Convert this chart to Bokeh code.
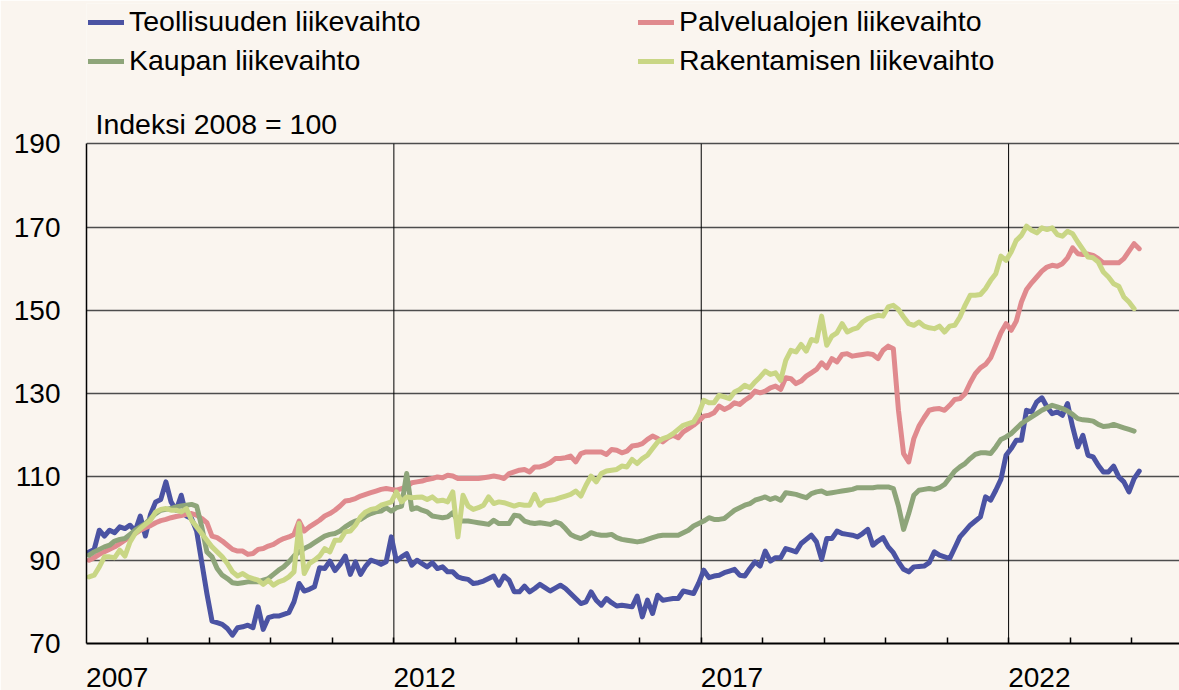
from bokeh.plotting import figure
from bokeh.models import FixedTicker, Legend, LegendItem, Range1d, Label
from bokeh.embed import file_html
from bokeh.resources import INLINE

# ---------------- data (monthly index values, 2008 = 100) ----------------
start_year = 2007

teollisuus = [
    92, 92.6, 97.2, 95.8, 97.2, 96.6, 98, 97.6, 98.4, 97, 100.6, 95.8,            # 2007
    101, 104, 104.6, 108.8, 104, 102, 105.6, 100.6, 100, 97, 89.5, 82,            # 2008
    75.4, 75, 74.6, 73.6, 72, 73.8, 74, 74.4, 73.8, 78.8, 73.4, 76.2,             # 2009
    76.6, 76.6, 77, 77.4, 80, 84.4, 82.6, 83, 83.6, 88.2, 88, 89.8,               # 2010
    87.5, 89, 91, 86.6, 89.6, 86.6, 88.6, 90, 89.6, 89, 89.6, 95.6,               # 2011
    89.8, 90.8, 91.6, 88.8, 90, 89.2, 88.4, 89.4, 88, 88.4, 87.2, 87.2,           # 2012
    86, 85.6, 85.4, 84.4, 84.6, 85, 85.6, 86.2, 84, 86.2, 85.2, 82.4,             # 2013
    82.4, 83.8, 82.4, 83.2, 84.2, 83.4, 82.6, 83.3, 84, 83.2, 82, 80.8,           # 2014
    79.6, 80, 82.4, 80.4, 79.2, 80.8, 79.8, 79, 79.2, 79, 78.8, 81.4,             # 2015
    76.4, 80.4, 77.2, 81.6, 80.4, 80.6, 80.8, 80.8, 82.6, 82.3, 82, 84.5,         # 2016
    87.6, 85.8, 86.2, 86.4, 87, 87.4, 87.8, 86.4, 86.2, 88, 89.6, 88.6,           # 2017
    92.2, 89.8, 90.6, 90.6, 92.8, 92.4, 92, 94, 95, 96, 94.4, 90.2,               # 2018
    95.2, 95.2, 97, 96.4, 96.2, 96, 95.6, 96.4, 97.4, 93.6, 94.6, 95.4,           # 2019
    93.2, 91.8, 89.6, 87.8, 87.2, 88.4, 88.5, 88.6, 89.4, 92, 91.2, 90.8,         # 2020
    90.4, 93, 95.6, 97, 98.4, 99.4, 100.4, 105.2, 104.4, 106.8, 109.4, 115.2,     # 2021
    116.8, 118.8, 118.8, 126, 125.6, 128, 129, 126.8, 125.2, 125.6, 124.8, 127.6, # 2022
    122, 117.2, 120, 115.2, 114.8, 112.8, 111.2, 111.2, 112.6, 110, 108.8, 106.4, # 2023
    109.6, 111.4,                                                                  # 2024
]

palvelut = [
    90, 90.6, 91.4, 92, 92.6, 93.2, 94, 94.8, 95.6, 96.4, 97.2, 97.8,
    98.3, 99, 99.5, 99.8, 100.2, 100.5, 100.7, 101, 101.2, 100.8, 100, 99,
    95.8, 95.4, 94.6, 93.6, 92.6, 92.2, 92.2, 91.4, 91.6, 92.6, 92.8, 93.4,
    93.8, 94.6, 95.2, 95.6, 96.2, 99.4, 97, 98, 98.8, 99.6, 100.6, 101.2,
    102, 103, 104.2, 104.4, 104.8, 105.4, 105.8, 106.2, 106.6, 107, 107.2, 107,
    106.8, 107.2, 107.6, 108.6, 108.8, 109, 109.4, 109.6, 110, 109.8, 110.4, 110.2,
    109.6, 109.6, 109.6, 109.6, 109.6, 109.8, 110, 110.2, 110, 109.6, 110.8, 111.2,
    111.6, 111.8, 111.2, 112.4, 112.4, 112.8, 113.4, 114.4, 114.4, 114.6, 115, 113.6,
    115.6, 116, 116, 116, 116, 115.4, 116.6, 116.4, 115.8, 116.2, 117.4, 117.6,
    118, 119, 119.8, 119.2, 118.4, 119.4, 120, 119.4, 120.8, 121.6, 122.4, 123.4,
    124.6, 124.8, 125.4, 127, 126.2, 126.8, 127.8, 127.4, 128.4, 129.2, 130.6, 130.2,
    130.6, 131.4, 131.8, 131, 133.8, 133.6, 132.4, 133, 134.2, 135, 135.8, 137.4,
    136.2, 138.4, 137.6, 139.4, 139.6, 139, 139.2, 139.4, 139.6, 139.4, 138.4, 140.4,
    141.4, 140.8, 126, 115.6, 113.6, 119.2, 122.2, 124.2, 126, 126.3, 126.4, 126,
    127.2, 128.6, 128.8, 130, 132.6, 134.8, 136.2, 137, 138.6, 141.6, 144.6, 146.8,
    145.2, 147.4, 152, 155, 156.6, 158, 159.4, 160.4, 160.8, 160.6, 161.2, 162.6,
    165, 163.6, 163.4, 163.5, 163.2, 162.4, 161.4, 161.4, 161.4, 161.4, 162.4, 164.2,
    166, 164.8,
]

kauppa = [
    91.2, 92, 92.6, 93.2, 93.6, 94.6, 95, 95.2, 96.2, 97.2, 98, 98.8,
    100, 101.2, 102, 102.2, 102.4, 102.8, 103, 103.2, 103.4, 103, 98, 92,
    90.8, 88, 86.4, 85.6, 84.6, 84.4, 84.6, 84.8, 84.8, 84.8, 85.2, 85.6,
    86.6, 87.6, 88.4, 89.6, 91, 92, 92.8, 93.4, 94.2, 95, 95.8, 96.2,
    96.4, 97, 98, 98.8, 99.4, 99.8, 100.6, 101.2, 101.6, 101.8, 102.6, 101.8,
    102.6, 103, 110.8, 102.2, 102.6, 102, 101.6, 100.6, 100.4, 100.2, 100.4, 101.4,
    99.4, 99.4, 99.4, 99.2, 99, 98.8, 98.6, 99.6, 98.8, 98.8, 98.8, 100.8,
    100.6, 99.4, 99, 98.8, 99, 98.8, 98.6, 99.2, 98.8, 97.6, 96.2, 95.6,
    95.2, 95.8, 96.6, 96.2, 96, 96, 96.2, 95.4, 95, 94.8, 94.6, 94.4,
    94.6, 95, 95.4, 95.8, 96, 96, 96, 96, 96.6, 97.2, 98.2, 98.8,
    99.4, 100.2, 99.8, 99.8, 100, 101, 102, 102.6, 103.2, 103.6, 104.4, 104.8,
    105.2, 104.6, 105, 104.4, 106.2, 106, 105.8, 105.4, 105, 106, 106.4, 106.6,
    106, 106.2, 106.4, 106.6, 106.8, 107, 107.4, 107.4, 107.4, 107.4, 107.6, 107.6,
    107.6, 107.2, 103, 97.4, 101.2, 105.6, 106.8, 107, 107.2, 107, 107.4, 108.2,
    109.8, 111.4, 112.4, 113.2, 114.4, 115.4, 115.8, 115.8, 115.6, 117.2, 119, 119.6,
    120.4, 121.6, 122.8, 123.6, 124.4, 125.2, 126, 126.6, 127.2, 126.8, 126.4, 125.8,
    125, 124, 123.7, 123.6, 123.4, 122.6, 122.1, 122.2, 122.6, 122.2, 121.8, 121.4,
    121,
]

rakentaminen = [
    86, 86.4, 88.4, 90.8, 90.8, 90.6, 92.4, 91, 94.4, 96.4, 97.6, 98.6,
    99.6, 101.6, 102.2, 102.4, 102, 102, 101.6, 102.4, 99.6, 98, 96.4, 94.8,
    93.2, 92, 90.8, 89.2, 87.2, 86.2, 86.8, 86, 85.6, 85.2, 84.2, 85.2,
    84, 84.8, 85.2, 86, 87.2, 98.8, 86.8, 89.2, 90, 91, 92.8, 92,
    94.8, 94.8, 96.8, 97, 98.4, 100.4, 101.6, 102.2, 102.4, 103.2, 103.6, 104,
    106.4, 104, 105.2, 105, 105.1, 105.2, 104.6, 105.2, 104.2, 104.4, 104, 106.4,
    95.6, 105.6, 103, 102.2, 102.6, 103.2, 105.2, 103.6, 104, 103.8, 103.4, 103,
    103.4, 103.2, 103.2, 105.8, 103.2, 104.2, 104.4, 104.6, 105, 105.4, 105.8, 106.6,
    105.4, 108, 110.2, 108.8, 110.8, 111.4, 111.6, 111.8, 112.6, 112.4, 114.2, 113.2,
    114.4, 115.2, 116.8, 118.4, 119.2, 119.6, 120.4, 121.4, 122.4, 122.8, 123.2, 125.2,
    128.4, 127.8, 127.8, 129.6, 129.2, 128.8, 130.4, 131, 132, 131.4, 132.8, 134,
    135.4, 134.6, 135, 133.2, 138, 140.4, 140, 141.8, 140.2, 143, 142.6, 148.6,
    141.6, 143.8, 144.6, 146.8, 144.8, 145.4, 145.8, 147.2, 148, 148.4, 148.8, 148.6,
    150.8, 151.2, 150.2, 148.4, 146.8, 146.4, 147.2, 146.2, 145.8, 145.6, 146.2, 144.8,
    146.2, 146.4, 148.4, 151.2, 153.6, 153.6, 153.8, 155.2, 157.2, 158.8, 163, 162,
    164, 166.8, 168, 170.2, 169.2, 168.6, 169.8, 169.4, 169.8, 168.2, 167.8, 169,
    168.4, 166.4, 164.6, 162.8, 162.6, 161.6, 159.2, 158, 156.4, 155.8, 153.2, 152,
    150.4,
]

series_names = ["Teollisuuden liikevaihto", "Palvelualojen liikevaihto",
                "Kaupan liikevaihto", "Rakentamisen liikevaihto"]
series_values = [teollisuus, palvelut, kauppa, rakentaminen]
series_colors = ["#4b53a3", "#e08a8e", "#8ea57a", "#c9d685"]

label_years = [2007, 2012, 2017, 2022]
y_ticks = [70, 90, 110, 130, 150, 170, 190]
title_text = "Indeksi 2008 = 100"

# ---------------- style ----------------
BG = "#faf5ef"
FONT = "Liberation Sans"
FS = "28px"
FS_LEG = "28.5px"
Y_MIN, Y_MAX = y_ticks[0], y_ticks[-1]
Y_TOP = 223.67       # frame extends above 190 to hold the legend and the unit label


def month_positions(n):
    # monthly observations plotted at mid-month, in decimal years
    return [start_year + (i + 0.5) / 12 for i in range(n)]


p = figure(width=1179, height=690, output_backend="svg", toolbar_location=None,
           x_range=Range1d(2007, 2024.78), y_range=Range1d(Y_MIN, Y_TOP),
           background_fill_color=BG, border_fill_color=BG,
           min_border_left=86, min_border_right=0, min_border_top=3,
           min_border_bottom=47, outline_line_color=None)

# vertical 5-year grid lines, only inside the 70..190 band
p.segment(x0=label_years[1:], x1=label_years[1:],
          y0=[Y_MIN] * 3, y1=[Y_MAX] * 3, line_color="#000000", line_width=1)

renderers = []
for name, vals, col in zip(series_names, series_values, series_colors):
    r = p.line(month_positions(len(vals)), vals, line_color=col, line_width=5,
               line_join="round", line_cap="round")
    renderers.append(r)

# axes
xa = p.xaxis[0]
xa.ticker = FixedTicker(ticks=[y + 0.5 for y in label_years],
                        minor_ticks=list(range(2008, 2025)))
xa.major_label_overrides = {y + 0.5: str(y) for y in label_years}
xa.major_tick_in = 0
xa.major_tick_out = 0
xa.minor_tick_in = 6
xa.minor_tick_out = 0
xa.minor_tick_line_color = "#000000"
xa.minor_tick_line_width = 1.5
xa.axis_line_color = "#000000"
xa.axis_line_width = 2
xa.major_label_text_font = FONT
xa.major_label_text_font_size = FS
xa.major_label_text_color = "#000000"
xa.major_label_text_line_height = 0.6
xa.major_label_standoff = 24

ya = p.yaxis[0]
ya.ticker = FixedTicker(ticks=y_ticks)
ya.bounds = (Y_MIN, Y_MAX)
ya.major_tick_in = 0
ya.major_tick_out = 0
ya.minor_tick_line_color = None
ya.axis_line_color = "#000000"
ya.axis_line_width = 1.5
ya.major_label_text_font = FONT
ya.major_label_text_font_size = FS
ya.major_label_text_color = "#000000"
ya.major_label_standoff = 26

p.xgrid.visible = False
p.ygrid.ticker = FixedTicker(ticks=y_ticks)
p.ygrid.grid_line_color = "#4d4d4d"
p.ygrid.grid_line_width = 1.4

# unit label just above the 190 line
p.add_layout(Label(x=9, y=520, x_units="screen", y_units="screen", text=title_text,
                   text_font=FONT, text_font_size=FS_LEG, text_color="#000000",
                   text_baseline="alphabetic", text_align="left"))

legend = Legend(items=[LegendItem(label=n, renderers=[r]) for n, r in zip(series_names, renderers)],
                orientation="horizontal", ncols=2, location="top_left",
                label_text_font=FONT, label_text_font_size=FS_LEG, label_text_color="#000000",
                glyph_width=36, glyph_height=24, label_standoff=5, label_width=503,
                spacing=6, padding=4, margin=2, border_line_color=None,
                background_fill_alpha=0)
p.add_layout(legend, "center")

open("out.html", "w").write(file_html(p, INLINE))
